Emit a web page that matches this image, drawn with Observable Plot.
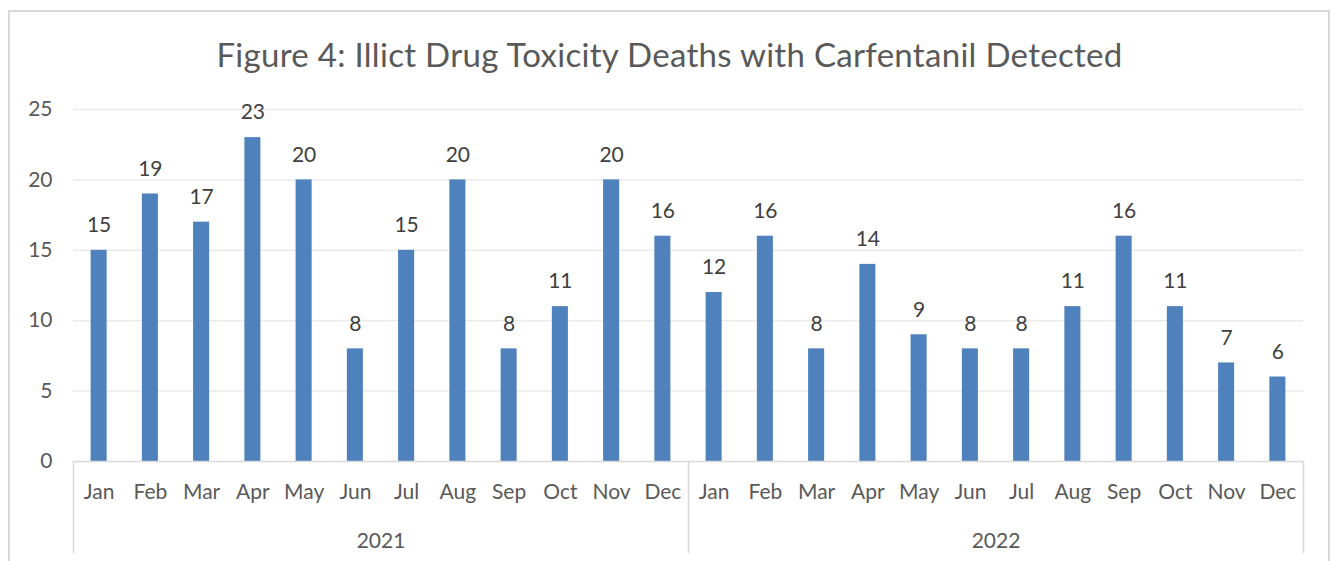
<!DOCTYPE html>
<html>
<head>
<meta charset="utf-8">
<script src="https://cdn.jsdelivr.net/npm/d3@7"></script>
<script src="https://cdn.jsdelivr.net/npm/@observablehq/plot@0.6"></script>
<style>
  html, body { margin: 0; padding: 0; background: #fff; }
  #wrap { position: relative; width: 1335px; height: 561px; overflow: hidden; font-family: Lato, "Open Sans", sans-serif; }
  #frame { position: absolute; left: 8px; top: 10px; width: 1322px; height: 600px; border: 2px solid #d9d9d9; box-sizing: border-box; }
  #title { position: absolute; left: 0; top: 32px; width: 1339px; text-align: center; font-size: 33px; letter-spacing: 0.3px; color: #595959; line-height: 44px; }
  #chart { position: absolute; left: 0; top: 0; }
</style>
</head>
<body>
<div id="wrap">
  <div id="frame"></div>
  <div id="chart"></div>
  <div id="title">Figure 4: Illict Drug Toxicity Deaths with Carfentanil Detected</div>
</div>
<script>
const months = ["Jan","Feb","Mar","Apr","May","Jun","Jul","Aug","Sep","Oct","Nov","Dec"];
const years = ["2021", "2022"];
const values2021 = [15, 19, 17, 23, 20, 8, 15, 20, 8, 11, 20, 16];
const values2022 = [12, 16, 8, 14, 9, 8, 8, 11, 16, 11, 7, 6];
const yTicks = [0, 5, 10, 15, 20, 25];

const series = [values2021, values2022];
const data = [];
series.forEach((vals, yi) => vals.forEach((v, mi) => data.push({i: yi * 12 + mi, year: years[yi], month: months[mi], value: v})));
const centers = data.map(d => d.i + 0.5);
const bounds = years.map((y, k) => k * 12).concat([years.length * 12]);
const yearData = years.map((y, k) => ({year: y, mid: k * 12 + 6}));

const font = "Lato, 'Open Sans', sans-serif";
const plot = Plot.plot({
  width: 1335,
  height: 561,
  marginLeft: 73,
  marginRight: 32,
  marginTop: 109,
  marginBottom: 100,
  style: {fontFamily: font, fontSize: "21px", color: "#595959", background: "transparent", overflow: "visible"},
  x: {type: "linear", domain: [0, years.length * 12], axis: null},
  y: {domain: [0, 25], axis: null},
  marks: [
    Plot.gridY(yTicks.filter(t => t > 0), {stroke: "#ebebeb", strokeOpacity: 1, strokeWidth: 1.5}),
    Plot.axisY(yTicks, {tickSize: 0, tickPadding: 21, fontSize: 21, fill: "#595959", stroke: null, label: null}),
    Plot.rectY(data, {x1: "i", x2: d => d.i + 1, y: "value", fill: "#4f81bd", insetLeft: 17.6, insetRight: 17.6}),
    Plot.text(data, {x: d => d.i + 0.5, y: "value", text: d => String(d.value), dy: -25, fill: "#404040", fontSize: 21}),
    Plot.ruleY([0], {stroke: "#d9d9d9", strokeWidth: 1.5}),
    Plot.axisX(bounds, {tickSize: 92, tickFormat: () => "", stroke: "#d9d9d9", strokeWidth: 1.5, label: null}),
    Plot.axisX(centers, {tickSize: 0, tickPadding: 23, tickFormat: t => data[Math.floor(t)].month, fill: "#595959", fontSize: 21, label: null}),
    Plot.text(yearData, {x: "mid", frameAnchor: "bottom", dy: 86, text: "year", fill: "#595959", fontSize: 21})
  ]
});
document.getElementById("chart").appendChild(plot);
</script>
</body>
</html>
